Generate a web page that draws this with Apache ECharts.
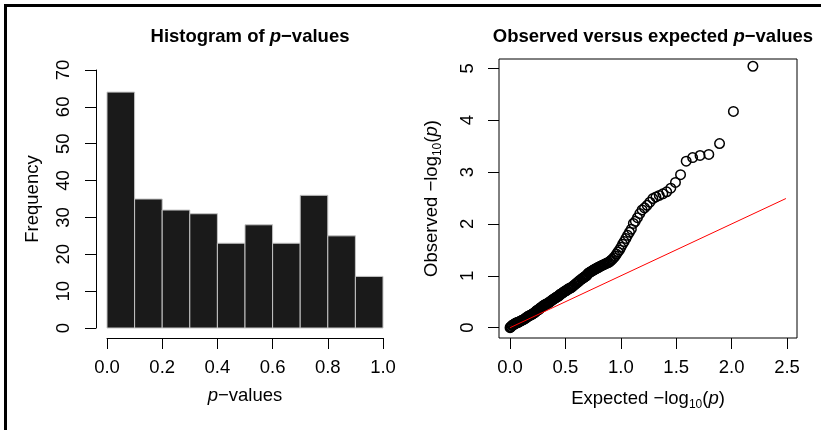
<!DOCTYPE html>
<html>
<head>
<meta charset="utf-8">
<script src="https://cdn.jsdelivr.net/npm/echarts@6/dist/echarts.min.js"></script>
<style>
html,body{margin:0;padding:0;background:#fff;}
#chart{width:821px;height:430px;}
</style>
</head>
<body>
<div id="chart"></div>
<script>
// ---------- Histogram data ----------
const binLow = [0.0, 0.1, 0.2, 0.3, 0.4, 0.5, 0.6, 0.7, 0.8, 0.9];
const binHigh = [0.1, 0.2, 0.3, 0.4, 0.5, 0.6, 0.7, 0.8, 0.9, 1.0];
const histCounts = [64, 35, 32, 31, 23, 28, 23, 36, 25, 14];

// ---------- QQ data (expected vs observed -log10 p) ----------
const expectedLogP = [
  2.192, 2.016, 1.891, 1.794, 1.715, 1.648, 1.590, 1.539, 1.493, 1.451,
  1.414, 1.379, 1.347, 1.317, 1.289, 1.262, 1.237, 1.214, 1.192, 1.171,
  1.150, 1.131, 1.113, 1.095, 1.078, 1.061, 1.046, 1.030, 1.016, 1.001,
  0.988, 0.974, 0.961, 0.949, 0.936, 0.925, 0.913, 0.902, 0.891,
  0.880, 0.869, 0.859, 0.849, 0.840, 0.830, 0.821, 0.812, 0.803, 0.794,
  0.785, 0.777, 0.768, 0.760, 0.752, 0.745, 0.737, 0.729, 0.722, 0.715,
  0.707, 0.700, 0.693, 0.687, 0.680, 0.673, 0.667, 0.660, 0.654, 0.648,
  0.635, 0.624, 0.612, 0.601, 0.590, 0.579, 0.568, 0.558, 0.548, 0.539,
  0.529, 0.520, 0.511, 0.502, 0.493, 0.484, 0.476, 0.467, 0.459, 0.451,
  0.444, 0.436, 0.428, 0.421, 0.414, 0.406, 0.399, 0.392, 0.386, 0.379,
  0.369, 0.359, 0.350, 0.340, 0.331, 0.322, 0.314, 0.305, 0.297, 0.289,
  0.281, 0.273, 0.265, 0.257, 0.250, 0.242, 0.235, 0.228, 0.221, 0.214,
  0.207, 0.200, 0.194, 0.183, 0.173, 0.162, 0.152, 0.143, 0.133, 0.124,
  0.114, 0.105, 0.097, 0.088, 0.079, 0.071, 0.063, 0.055, 0.047, 0.039,
  0.032, 0.024, 0.017, 0.010, 0.004, 0.000
];
const observedLogP = [
  5.04, 4.17, 3.55, 3.34, 3.32, 3.28, 3.21, 2.95, 2.80, 2.69,
  2.62, 2.58, 2.55, 2.52, 2.49, 2.42, 2.36, 2.31, 2.27, 2.20,
  2.12, 2.05, 2.01, 1.90, 1.84, 1.78, 1.72, 1.66, 1.61, 1.55,
  1.50, 1.46, 1.42, 1.38, 1.35, 1.32, 1.30, 1.28, 1.26,
  1.25, 1.24, 1.23, 1.22, 1.21, 1.20, 1.19, 1.18, 1.17, 1.16,
  1.15, 1.14, 1.13, 1.12, 1.11, 1.10, 1.09, 1.08, 1.07, 1.06,
  1.05, 1.03, 1.01, 1.00, 0.99, 0.98, 0.97, 0.96, 0.95, 0.94,
  0.92, 0.90, 0.88, 0.86, 0.84, 0.82, 0.80, 0.78, 0.77, 0.76,
  0.75, 0.74, 0.72, 0.71, 0.70, 0.69, 0.67, 0.66, 0.65, 0.64,
  0.62, 0.61, 0.60, 0.59, 0.58, 0.57, 0.56, 0.55, 0.54, 0.53,
  0.51, 0.50, 0.48, 0.47, 0.46, 0.45, 0.44, 0.43, 0.42, 0.40,
  0.39, 0.38, 0.36, 0.35, 0.34, 0.33, 0.32, 0.30, 0.29, 0.28,
  0.27, 0.26, 0.25, 0.24, 0.23, 0.22, 0.20, 0.19, 0.17, 0.16,
  0.15, 0.14, 0.13, 0.12, 0.11, 0.10, 0.10, 0.09, 0.08, 0.07,
  0.06, 0.05, 0.04, 0.02, 0.01, 0.00
];
const refLineX = [0, 2.49];
const refLineY = [0, 2.49];

const qqXTicks = [0, 0.5, 1.0, 1.5, 2.0, 2.5];
const qqYTicks = [0, 1, 2, 3, 4, 5];

// ---------- build ----------
const FONT = "'Liberation Sans', Arial, Helvetica, sans-serif";
const FS = 18.5;

const histData = binLow.map((lo, i) => [lo, binHigh[i], histCounts[i]]);
const qqData = expectedLogP.map((x, i) => [x, observedLogP[i]]);
const refData = refLineX.map((x, i) => [x, refLineY[i]]);

const richBase = {
  n: {fontFamily: FONT, fontSize: FS, color: '#000'},
  i: {fontFamily: FONT, fontSize: FS, color: '#000', fontStyle: 'italic'},
  s: {fontFamily: FONT, fontSize: 12, color: '#000', verticalAlign: 'bottom', lineHeight: 24}
};
const richTitle = {
  b: {fontFamily: FONT, fontSize: FS, fontWeight: 'bold', color: '#000'},
  bi: {fontFamily: FONT, fontSize: FS, fontWeight: 'bold', fontStyle: 'italic', color: '#000'}
};

const chart = echarts.init(document.getElementById('chart'), null, {renderer: 'canvas'});
chart.setOption({
  animation: false,
  backgroundColor: '#fff',
  title: [
    {
      text: '{b|Histogram of }{bi|p}{b|\u2212values}',
      left: 245, top: 22, textAlign: 'center',
      textStyle: {rich: richTitle}
    },
    {
      text: '{b|Observed versus expected }{bi|p}{b|\u2212values}',
      left: 648, top: 22, textAlign: 'center',
      textStyle: {rich: richTitle}
    }
  ],
  graphic: [
    {type: 'polyline', shape: {points: [[5.5, 430], [5.5, 5.5], [821, 5.5]]},
     style: {stroke: '#000', lineWidth: 3, fill: null}, z: 100}
  ],
  grid: [
    {left: 107, right: 438, top: 70, bottom: 102, show: false},
    {left: 499, right: 24, top: 59, bottom: 92, show: true,
     borderColor: '#000', borderWidth: 1, backgroundColor: 'transparent'}
  ],
  xAxis: [
    {
      type: 'value', gridIndex: 0, min: 0, max: 1, interval: 0.2,
      offset: 10,
      axisLine: {show: true, onZero: false, lineStyle: {color: '#000', width: 1}},
      axisTick: {show: true, length: 11, lineStyle: {color: '#000'}},
      axisLabel: {fontFamily: FONT, fontSize: FS, color: '#000', margin: 20,
                  formatter: v => v.toFixed(1)},
      splitLine: {show: false},
      name: '{i|p}{n|\u2212values}', nameLocation: 'middle', nameGap: 48,
      nameTextStyle: {rich: richBase}
    },
    {
      type: 'value', gridIndex: 1, min: -0.0996, max: 2.59,
      axisLine: {show: false, onZero: false},
      axisTick: {show: true, length: 11, lineStyle: {color: '#000'}, customValues: qqXTicks},
      axisLabel: {fontFamily: FONT, fontSize: FS, color: '#000', margin: 20,
                  customValues: qqXTicks, formatter: v => v.toFixed(1)},
      splitLine: {show: false},
      name: '{n|Expected \u2212log}{s|10}{n|(}{i|p}{n|)}', nameLocation: 'middle', nameGap: 49,
      nameTextStyle: {rich: richBase}
    }
  ],
  yAxis: [
    {
      type: 'value', gridIndex: 0, min: 0, max: 70, interval: 10,
      offset: 11,
      axisLine: {show: true, onZero: false, lineStyle: {color: '#000', width: 1}},
      axisTick: {show: true, length: 11, lineStyle: {color: '#000'}},
      axisLabel: {fontFamily: FONT, fontSize: FS, color: '#000', margin: 23, rotate: 90},
      splitLine: {show: false},
      name: 'Frequency', nameLocation: 'middle', nameGap: 54,
      nameTextStyle: {fontFamily: FONT, fontSize: FS, color: '#000'}
    },
    {
      type: 'value', gridIndex: 1, min: -0.199, max: 5.18,
      axisLine: {show: false, onZero: false},
      axisTick: {show: true, length: 11, lineStyle: {color: '#000'}, customValues: qqYTicks},
      axisLabel: {fontFamily: FONT, fontSize: FS, color: '#000', margin: 22, rotate: 90,
                  customValues: qqYTicks},
      splitLine: {show: false},
      name: '{n|Observed \u2212log}{s|10}{n|(}{i|p}{n|)}', nameLocation: 'middle', nameGap: 55,
      nameTextStyle: {rich: richBase}
    }
  ],
  series: [
    {
      type: 'custom', xAxisIndex: 0, yAxisIndex: 0,
      data: histData,
      renderItem: function (params, api) {
        const p0 = api.coord([api.value(0), api.value(2)]);
        const p1 = api.coord([api.value(1), 0]);
        return {
          type: 'rect',
          shape: {x: p0[0], y: p0[1], width: p1[0] - p0[0], height: p1[1] - p0[1]},
          style: {fill: '#1a1a1a', stroke: '#c4c4c4', lineWidth: 1}
        };
      }
    },
    {
      type: 'scatter', xAxisIndex: 1, yAxisIndex: 1,
      data: qqData,
      symbol: 'circle', symbolSize: 9.5,
      itemStyle: {color: 'rgba(0,0,0,0)', borderColor: '#000', borderWidth: 1.5, opacity: 1},
      emphasis: {disabled: true}
    },
    {
      type: 'line', xAxisIndex: 1, yAxisIndex: 1,
      data: refData, showSymbol: false, symbol: 'none',
      lineStyle: {color: '#ff0000', width: 1},
      z: 5
    }
  ]
});
</script>
</body>
</html>
